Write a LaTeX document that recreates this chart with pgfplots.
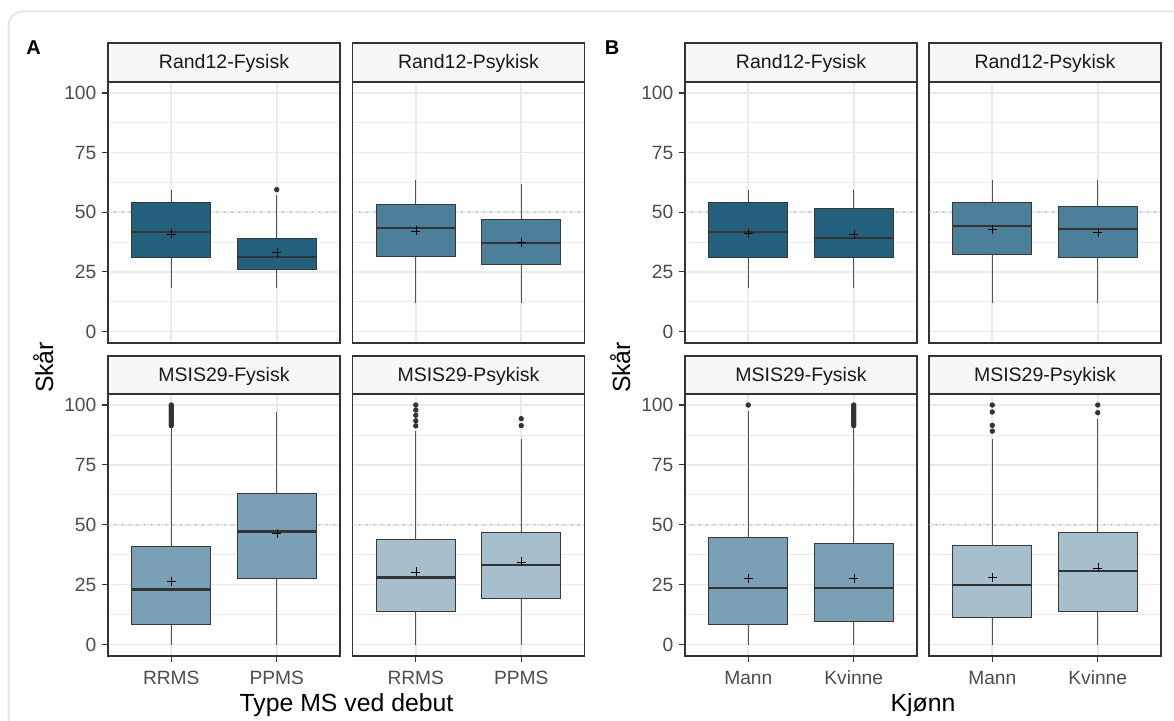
\documentclass[border=0pt]{standalone}
\usepackage{pgfplots}
\pgfplotsset{compat=1.18}
\usepgfplotslibrary{statistics}
\usepackage{fontspec}
\setmainfont{Liberation Sans}

\definecolor{cA}{HTML}{22607E}
\definecolor{cB}{HTML}{4B7F9A}
\definecolor{cC}{HTML}{79A0B4}
\definecolor{cD}{HTML}{A7BFCC}
\definecolor{gridc}{HTML}{EBEBEB}
\definecolor{refc}{HTML}{9DBACB}
\definecolor{stripc}{HTML}{F5F7F9}
\definecolor{framec}{HTML}{333333}
\definecolor{tickc}{HTML}{4D4D4D}
\definecolor{outerc}{HTML}{E6E6E6}

\pgfplotsset{
  panel/.style={
    scale only axis, width=232pt,
    anchor=south west,
    xmin=0.4, xmax=2.6, ymin=-4.8, ymax=104.6,
    xtick={1,2}, ytick={0,25,50,75,100},
    yticklabels={0,25,50,75,100},
    minor ytick={12.5,37.5,62.5,87.5},
    xtick pos=bottom, ytick pos=left,
    xmajorgrids, ymajorgrids, yminorgrids,
    major grid style={draw=gridc, line width=1.6pt},
    minor grid style={draw=gridc, line width=0.8pt},
    axis line style={draw=framec, line width=1.3pt},
    tick align=outside,
    major tick length=6pt, minor tick length=0pt,
    tick style={draw=framec, line width=1.1pt},
    ticklabel style={font=\fontsize{19.2}{22}\selectfont, text=tickc, inner sep=0pt},
    yticklabel style={anchor=east, xshift=-5.5pt},
    xticklabel style={anchor=north, yshift=-8.6pt},
  },
  toprow/.style={panel, height=261pt, xticklabels={}, xtick style={draw=none}},
  botrow/.style={panel, height=262pt},
  rightcol/.style={yticklabels={}, ytick style={draw=none}},
  bstyle/.style={
    boxplot/draw direction=y,
    boxplot/box extend=0.75,
    boxplot/whisker extend=0,
    boxplot/every box/.style={draw=black!78, line width=1.0pt},
    boxplot/every whisker/.style={draw=black!68, line width=1.0pt},
    boxplot/every median/.style={draw=black!80, line width=2.4pt},
    boxplot/every average/.style={/tikz/mark=+, /tikz/mark size=4.5pt},
    mark=*, mark size=2.2pt, mark options={draw=black!80, fill=black!80, line width=0.9pt},
  },
}

% fill, pos, lw, lq, med, uq, uw, avg
\newcommand{\bp}[8]{\addplot[bstyle, fill=#1, boxplot prepared={draw position=#2, lower whisker=#3, lower quartile=#4, median=#5, upper quartile=#6, upper whisker=#7, average=#8}]}
\newcommand{\refline}{\addplot[refc, line width=1.8pt, line cap=round, dash pattern=on 0pt off 7.3pt, forget plot] coordinates {(0.4,50) (2.6,50)};}

\begin{document}
\begin{tikzpicture}
\useasboundingbox (0pt,0pt) rectangle (1174pt,720pt);
\fill[white] (0pt,0pt) rectangle (1174pt,720pt);
\draw[outerc, line width=2pt, rounded corners=14pt] (8.5pt,-30pt) -- (8.5pt,708.5pt) -- (1200pt,708.5pt);

% ---------------- Panel A ----------------
\begin{axis}[toprow, at={(108pt,377pt)}]
\refline
\bp{cA}{1}{18.1}{30.9}{41.6}{54.2}{59.5}{41.0} coordinates {};
\bp{cA}{2}{18.1}{25.8}{31.2}{38.9}{57.1}{33.2} coordinates {(2,59.5)};
\end{axis}
\begin{axis}[toprow, rightcol, at={(352.5pt,377pt)}]
\refline
\bp{cB}{1}{12.1}{31.3}{43.5}{53.1}{63.4}{42.2} coordinates {};
\bp{cB}{2}{12.1}{28.3}{37.0}{47.1}{62.0}{37.5} coordinates {};
\end{axis}
\begin{axis}[botrow, at={(108pt,64pt)}, xticklabels={RRMS,PPMS}]
\refline
\bp{cC}{1}{0}{8.4}{22.9}{40.8}{90.5}{26.5} coordinates {(1,91.4) (1,92.1) (1,92.9) (1,93.6) (1,94.3) (1,95.0) (1,95.7) (1,96.4) (1,97.1) (1,97.9) (1,98.6) (1,99.3) (1,100)};
\bp{cC}{2}{0}{27.4}{47.2}{63.1}{97.2}{46.4} coordinates {};
\end{axis}
\begin{axis}[botrow, rightcol, at={(352.5pt,64pt)}, xticklabels={RRMS,PPMS}]
\refline
\bp{cD}{1}{0}{13.7}{27.9}{44.0}{89.1}{30.4} coordinates {(1,91.3) (1,93.4) (1,95.7) (1,97.9) (1,100)};
\bp{cD}{2}{0}{19.4}{33.2}{46.9}{85.9}{34.5} coordinates {(2,91.4) (2,94.3)};
\end{axis}

% ---------------- Panel B ----------------
\begin{axis}[toprow, at={(685pt,377pt)}]
\refline
\bp{cA}{1}{18.1}{30.9}{41.6}{54.2}{59.5}{41.2} coordinates {};
\bp{cA}{2}{18.1}{30.9}{39.1}{51.4}{59.5}{40.8} coordinates {};
\end{axis}
\begin{axis}[toprow, rightcol, at={(929pt,377pt)}]
\refline
\bp{cB}{1}{12.1}{32.3}{44.3}{54.2}{63.4}{42.8} coordinates {};
\bp{cB}{2}{12.1}{30.9}{43.0}{52.4}{63.4}{41.5} coordinates {};
\end{axis}
\begin{axis}[botrow, at={(685pt,64pt)}, xticklabels={Mann,Kvinne}]
\refline
\bp{cC}{1}{0}{8.4}{23.6}{44.8}{97.5}{27.6} coordinates {(1,100)};
\bp{cC}{2}{0}{9.8}{23.6}{42.2}{91.0}{27.6} coordinates {(2,91.4) (2,92.1) (2,92.9) (2,93.6) (2,94.3) (2,95.0) (2,95.7) (2,96.4) (2,97.1) (2,97.9) (2,98.6) (2,99.3) (2,100)};
\end{axis}
\begin{axis}[botrow, rightcol, at={(929pt,64pt)}, xticklabels={Mann,Kvinne}]
\refline
\bp{cD}{1}{0}{11.2}{24.9}{41.2}{85.9}{28.1} coordinates {(1,89.1) (1,91.5) (1,97.1) (1,100)};
\bp{cD}{2}{0}{13.7}{30.7}{46.9}{94.0}{32.0} coordinates {(2,96.8) (2,100)};
\end{axis}

% ---------------- strips ----------------
\tikzset{strip/.style={draw=framec, line width=1.3pt, fill=stripc},
         striptext/.style={text=black!90, font=\fontsize{19.5}{22}\selectfont, anchor=base}}
\foreach \x/\t in {108/Rand12-Fysisk, 352.5/Rand12-Psykisk, 685/Rand12-Fysisk, 929/Rand12-Psykisk}{
  \draw[strip] (\x pt,638pt) rectangle ++(232pt,39pt);
  \node[striptext] at (\x pt+116pt, 651pt) {\t};
}
\foreach \x/\t in {108/MSIS29-Fysisk, 352.5/MSIS29-Psykisk, 685/MSIS29-Fysisk, 929/MSIS29-Psykisk}{
  \draw[strip] (\x pt,326pt) rectangle ++(232pt,38pt);
  \node[striptext] at (\x pt+116pt, 338.5pt) {\t};
}

% ---------------- titles ----------------
\node[anchor=base, font=\fontsize{24.8}{28}\selectfont] at (346.5pt,8.5pt) {Type MS ved debut};
\node[anchor=base, font=\fontsize{24.8}{28}\selectfont] at (923pt,8.5pt) {Kjønn};
\node[rotate=90, anchor=base, font=\fontsize{24.8}{28}\selectfont] at (53pt,352.5pt) {Skår};
\node[rotate=90, anchor=base, font=\fontsize{24.8}{28}\selectfont] at (630pt,352.5pt) {Skår};
\node[anchor=base, font=\bfseries\fontsize{20}{24}\selectfont] at (33.7pt,665.5pt) {A};
\node[anchor=base, font=\bfseries\fontsize{20}{24}\selectfont] at (612pt,665.5pt) {B};
\end{tikzpicture}
\end{document}
